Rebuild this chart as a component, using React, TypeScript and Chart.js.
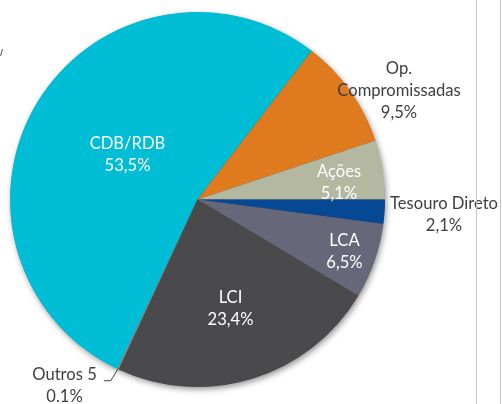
import React, { useEffect, useRef } from "react";
import { Chart, registerables } from "chart.js";

Chart.register(...registerables);

// ---- data ----
const categories = ["CDB/RDB", "Op. Compromissadas", "Ações", "Tesouro Direto", "LCA", "LCI", "Outros 5"];
const values = [53.5, 9.5, 5.1, 2.1, 6.5, 23.4, 0.1];
const valueLabels = ["53,5%", "9,5%", "5,1%", "2,1%", "6,5%", "23,4%", "0.1%"];
const categoryLines = [["CDB/RDB"], ["Op.", "Compromissadas"], ["Ações"], ["Tesouro Direto"], ["LCA"], ["LCI"], ["Outros 5"]];

// ---- styles ----
const colors = ["#00BDD6", "#E07A1E", "#B5B8A1", "#064894", "#666879", "#4A4A4C", "#9A9A9A"];
const inside = [true, false, true, false, true, true, false];
// label block centre, relative to pie centre, in units of radius
const labelOffsets = [
  [-0.3733, -0.2373],
  [1.0747, -0.5781],
  [0.7547, -0.0907],
  [1.3147, 0.0827],
  [0.784, 0.28],
  [0.176, 0.5824],
  [-0.7093, 0.9931],
];
const FONT = "Lato, 'Noto Sans', sans-serif";
const FONT_SIZE = 16.6;
const LINE_H = 22;

const total = values.reduce((a, b) => a + b, 0);
// Tesouro Direto starts at 3 o'clock
const rotation = 90 - (360 * (values[0] + values[1] + values[2])) / total;

const shadowPlugin = {
  id: "pieShadow",
  beforeDatasetsDraw(chart: any) {
    const meta = chart.getDatasetMeta(0);
    const arc = meta.data[0];
    if (!arc) return;
    const { x, y, outerRadius } = arc.getProps(["x", "y", "outerRadius"], true);
    const ctx = chart.ctx;
    ctx.save();
    ctx.shadowColor = "rgba(0,0,0,0.45)";
    ctx.shadowBlur = 6;
    ctx.shadowOffsetX = 1.5;
    ctx.shadowOffsetY = 2.5;
    ctx.fillStyle = "#4A4A4C";
    ctx.beginPath();
    ctx.arc(x, y, outerRadius - 0.5, 0, Math.PI * 2);
    ctx.fill();
    ctx.restore();
  },
};

const labelPlugin = {
  id: "pieLabels",
  afterDatasetsDraw(chart: any) {
    const ctx = chart.ctx;
    const meta = chart.getDatasetMeta(0);
    ctx.save();
    ctx.font = `${FONT_SIZE}px ${FONT}`;
    ctx.textAlign = "center";
    ctx.textBaseline = "middle";
    meta.data.forEach((el: any, i: number) => {
      const { x, y, outerRadius, startAngle, endAngle } = el.getProps(
        ["x", "y", "outerRadius", "startAngle", "endAngle"],
        true
      );
      const lx = x + labelOffsets[i][0] * outerRadius;
      const ly = y + labelOffsets[i][1] * outerRadius;
      const lines = [...categoryLines[i], valueLabels[i]];
      const top = ly - ((lines.length - 1) * LINE_H) / 2;
      ctx.fillStyle = inside[i] ? "#FFFFFF" : "#404040";
      lines.forEach((t, k) => ctx.fillText(t, lx, top + k * LINE_H));
      if (i === 6) {
        const mid = (startAngle + endAngle) / 2;
        const sx = x + Math.cos(mid) * outerRadius;
        const sy = y + Math.sin(mid) * outerRadius;
        ctx.strokeStyle = "#404040";
        ctx.lineWidth = 1;
        ctx.beginPath();
        ctx.moveTo(sx, sy);
        ctx.lineTo(sx - 7, sy + 11.5);
        ctx.lineTo(sx - 14, sy + 11.5);
        ctx.stroke();
      }
    });
    ctx.restore();
  },
  afterDraw(chart: any) {
    const ctx = chart.ctx;
    ctx.save();
    ctx.strokeStyle = "#C4C4C4";
    ctx.lineWidth = 1;
    ctx.beginPath();
    ctx.moveTo(476.5, 0);
    ctx.lineTo(476.5, 404);
    ctx.moveTo(500.5, 0);
    ctx.lineTo(500.5, 404);
    ctx.stroke();
    ctx.strokeStyle = "#555555";
    ctx.beginPath();
    ctx.moveTo(2.5, 49);
    ctx.lineTo(0.5, 56);
    ctx.stroke();
    ctx.restore();
  },
};

export default function App() {
  const ref = useRef<HTMLCanvasElement>(null);
  useEffect(() => {
    if (!ref.current) return;
    const chart = new Chart(ref.current, {
      type: "pie",
      data: {
        labels: categories,
        datasets: [
          {
            data: values,
            backgroundColor: colors,
            borderWidth: 0,
          },
        ],
      },
      options: {
        responsive: false,
        animation: false,
        devicePixelRatio: 1,
        rotation,
        layout: { padding: { left: 10, top: 12, right: 117, bottom: 17 } },
        plugins: {
          legend: { display: false },
          tooltip: { enabled: false },
        },
      },
      plugins: [shadowPlugin, labelPlugin],
    });
    return () => chart.destroy();
  }, []);
  return (
    <div style={{ position: "fixed", left: 0, top: 0, width: 502, height: 404, background: "#FFFFFF" }}>
      <canvas ref={ref} width={502} height={404} />
    </div>
  );
}
